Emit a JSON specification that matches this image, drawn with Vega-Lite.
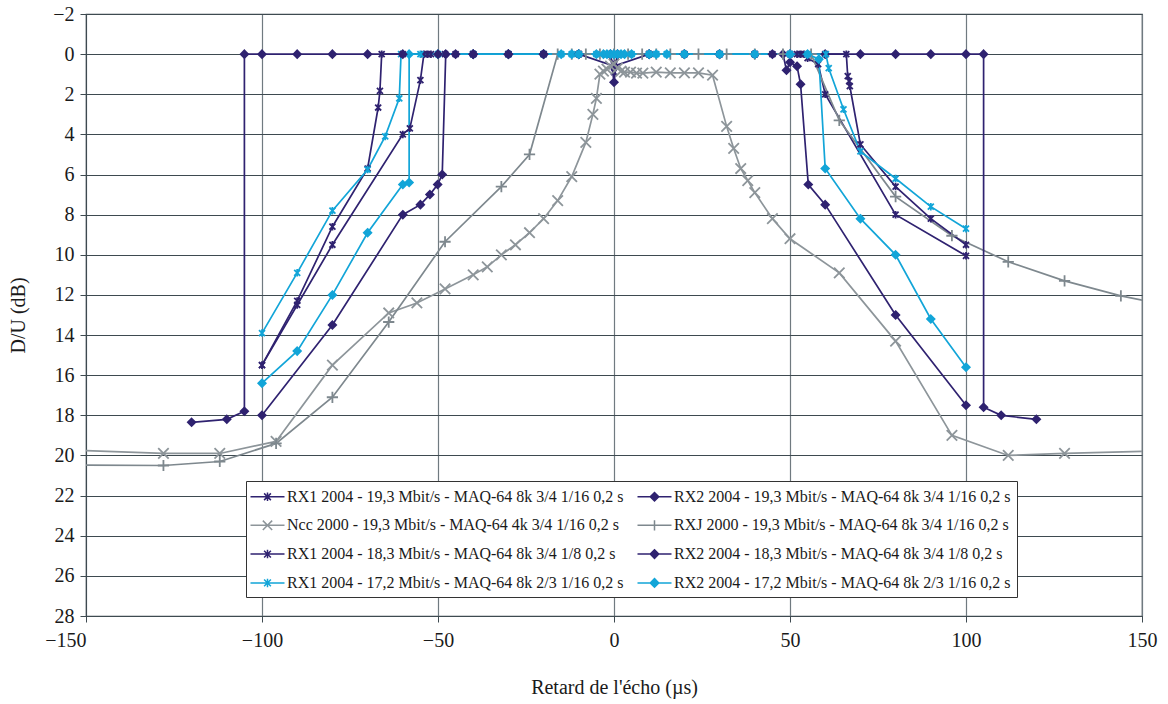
{
  "$schema": "https://vega.github.io/schema/vega-lite/v6.json",
  "width": 1056,
  "height": 602,
  "autosize": {"type": "none"},
  "padding": {"left": 86, "top": 14, "right": 26, "bottom": 88},
  "background": "white",
  "config": {
    "font": "Liberation Serif",
    "view": {"stroke": "#3e4a50", "strokeWidth": 1.2}
  },
  "data": {
    "values": [
      {"s": "RX1 2004 - 19,3 Mbit/s - MAQ-64 8k 3/4 1/16 0,2 s", "i": 1, "x": -100, "y": 15.5},
      {"s": "RX1 2004 - 19,3 Mbit/s - MAQ-64 8k 3/4 1/16 0,2 s", "i": 2, "x": -90, "y": 12.5},
      {"s": "RX1 2004 - 19,3 Mbit/s - MAQ-64 8k 3/4 1/16 0,2 s", "i": 3, "x": -80, "y": 9.5},
      {"s": "RX1 2004 - 19,3 Mbit/s - MAQ-64 8k 3/4 1/16 0,2 s", "i": 4, "x": -60, "y": 4.0},
      {"s": "RX1 2004 - 19,3 Mbit/s - MAQ-64 8k 3/4 1/16 0,2 s", "i": 5, "x": -58, "y": 3.7},
      {"s": "RX1 2004 - 19,3 Mbit/s - MAQ-64 8k 3/4 1/16 0,2 s", "i": 6, "x": -55, "y": 1.3},
      {"s": "RX1 2004 - 19,3 Mbit/s - MAQ-64 8k 3/4 1/16 0,2 s", "i": 7, "x": -54, "y": 0},
      {"s": "RX1 2004 - 19,3 Mbit/s - MAQ-64 8k 3/4 1/16 0,2 s", "i": 8, "x": -53, "y": 0},
      {"s": "RX1 2004 - 19,3 Mbit/s - MAQ-64 8k 3/4 1/16 0,2 s", "i": 9, "x": -52, "y": 0},
      {"s": "RX1 2004 - 19,3 Mbit/s - MAQ-64 8k 3/4 1/16 0,2 s", "i": 10, "x": -45, "y": 0},
      {"s": "RX1 2004 - 19,3 Mbit/s - MAQ-64 8k 3/4 1/16 0,2 s", "i": 11, "x": -40, "y": 0},
      {"s": "RX1 2004 - 19,3 Mbit/s - MAQ-64 8k 3/4 1/16 0,2 s", "i": 12, "x": -30, "y": 0},
      {"s": "RX1 2004 - 19,3 Mbit/s - MAQ-64 8k 3/4 1/16 0,2 s", "i": 13, "x": -20, "y": 0},
      {"s": "RX1 2004 - 19,3 Mbit/s - MAQ-64 8k 3/4 1/16 0,2 s", "i": 14, "x": -10, "y": 0},
      {"s": "RX1 2004 - 19,3 Mbit/s - MAQ-64 8k 3/4 1/16 0,2 s", "i": 15, "x": -2, "y": 0},
      {"s": "RX1 2004 - 19,3 Mbit/s - MAQ-64 8k 3/4 1/16 0,2 s", "i": 16, "x": 0, "y": 0.5},
      {"s": "RX1 2004 - 19,3 Mbit/s - MAQ-64 8k 3/4 1/16 0,2 s", "i": 17, "x": 2, "y": 0},
      {"s": "RX1 2004 - 19,3 Mbit/s - MAQ-64 8k 3/4 1/16 0,2 s", "i": 18, "x": 10, "y": 0},
      {"s": "RX1 2004 - 19,3 Mbit/s - MAQ-64 8k 3/4 1/16 0,2 s", "i": 19, "x": 20, "y": 0},
      {"s": "RX1 2004 - 19,3 Mbit/s - MAQ-64 8k 3/4 1/16 0,2 s", "i": 20, "x": 30, "y": 0},
      {"s": "RX1 2004 - 19,3 Mbit/s - MAQ-64 8k 3/4 1/16 0,2 s", "i": 21, "x": 40, "y": 0},
      {"s": "RX1 2004 - 19,3 Mbit/s - MAQ-64 8k 3/4 1/16 0,2 s", "i": 22, "x": 45, "y": 0},
      {"s": "RX1 2004 - 19,3 Mbit/s - MAQ-64 8k 3/4 1/16 0,2 s", "i": 23, "x": 52, "y": 0},
      {"s": "RX1 2004 - 19,3 Mbit/s - MAQ-64 8k 3/4 1/16 0,2 s", "i": 24, "x": 53, "y": 0},
      {"s": "RX1 2004 - 19,3 Mbit/s - MAQ-64 8k 3/4 1/16 0,2 s", "i": 25, "x": 54, "y": 0},
      {"s": "RX1 2004 - 19,3 Mbit/s - MAQ-64 8k 3/4 1/16 0,2 s", "i": 26, "x": 55, "y": 0.2},
      {"s": "RX1 2004 - 19,3 Mbit/s - MAQ-64 8k 3/4 1/16 0,2 s", "i": 27, "x": 58, "y": 0.5},
      {"s": "RX1 2004 - 19,3 Mbit/s - MAQ-64 8k 3/4 1/16 0,2 s", "i": 28, "x": 60, "y": 2.0},
      {"s": "RX1 2004 - 19,3 Mbit/s - MAQ-64 8k 3/4 1/16 0,2 s", "i": 29, "x": 80, "y": 8.0},
      {"s": "RX1 2004 - 19,3 Mbit/s - MAQ-64 8k 3/4 1/16 0,2 s", "i": 30, "x": 100, "y": 10.05},

      {"s": "RX2 2004 - 19,3 Mbit/s - MAQ-64 8k 3/4 1/16 0,2 s", "i": 1, "x": -100, "y": 18.0},
      {"s": "RX2 2004 - 19,3 Mbit/s - MAQ-64 8k 3/4 1/16 0,2 s", "i": 2, "x": -80, "y": 13.5},
      {"s": "RX2 2004 - 19,3 Mbit/s - MAQ-64 8k 3/4 1/16 0,2 s", "i": 3, "x": -60, "y": 8.0},
      {"s": "RX2 2004 - 19,3 Mbit/s - MAQ-64 8k 3/4 1/16 0,2 s", "i": 4, "x": -55, "y": 7.5},
      {"s": "RX2 2004 - 19,3 Mbit/s - MAQ-64 8k 3/4 1/16 0,2 s", "i": 5, "x": -52.3, "y": 7.0},
      {"s": "RX2 2004 - 19,3 Mbit/s - MAQ-64 8k 3/4 1/16 0,2 s", "i": 6, "x": -50.1, "y": 6.5},
      {"s": "RX2 2004 - 19,3 Mbit/s - MAQ-64 8k 3/4 1/16 0,2 s", "i": 7, "x": -48.8, "y": 6.0},
      {"s": "RX2 2004 - 19,3 Mbit/s - MAQ-64 8k 3/4 1/16 0,2 s", "i": 8, "x": -47.8, "y": 0},
      {"s": "RX2 2004 - 19,3 Mbit/s - MAQ-64 8k 3/4 1/16 0,2 s", "i": 9, "x": -45, "y": 0},
      {"s": "RX2 2004 - 19,3 Mbit/s - MAQ-64 8k 3/4 1/16 0,2 s", "i": 10, "x": -40, "y": 0},
      {"s": "RX2 2004 - 19,3 Mbit/s - MAQ-64 8k 3/4 1/16 0,2 s", "i": 11, "x": -30, "y": 0},
      {"s": "RX2 2004 - 19,3 Mbit/s - MAQ-64 8k 3/4 1/16 0,2 s", "i": 12, "x": -20, "y": 0},
      {"s": "RX2 2004 - 19,3 Mbit/s - MAQ-64 8k 3/4 1/16 0,2 s", "i": 13, "x": -10, "y": 0},
      {"s": "RX2 2004 - 19,3 Mbit/s - MAQ-64 8k 3/4 1/16 0,2 s", "i": 14, "x": -1, "y": 0},
      {"s": "RX2 2004 - 19,3 Mbit/s - MAQ-64 8k 3/4 1/16 0,2 s", "i": 15, "x": 0, "y": 1.4},
      {"s": "RX2 2004 - 19,3 Mbit/s - MAQ-64 8k 3/4 1/16 0,2 s", "i": 16, "x": 1, "y": 0},
      {"s": "RX2 2004 - 19,3 Mbit/s - MAQ-64 8k 3/4 1/16 0,2 s", "i": 17, "x": 10, "y": 0},
      {"s": "RX2 2004 - 19,3 Mbit/s - MAQ-64 8k 3/4 1/16 0,2 s", "i": 18, "x": 20, "y": 0},
      {"s": "RX2 2004 - 19,3 Mbit/s - MAQ-64 8k 3/4 1/16 0,2 s", "i": 19, "x": 30, "y": 0},
      {"s": "RX2 2004 - 19,3 Mbit/s - MAQ-64 8k 3/4 1/16 0,2 s", "i": 20, "x": 40, "y": 0},
      {"s": "RX2 2004 - 19,3 Mbit/s - MAQ-64 8k 3/4 1/16 0,2 s", "i": 21, "x": 45, "y": 0},
      {"s": "RX2 2004 - 19,3 Mbit/s - MAQ-64 8k 3/4 1/16 0,2 s", "i": 22, "x": 48, "y": 0},
      {"s": "RX2 2004 - 19,3 Mbit/s - MAQ-64 8k 3/4 1/16 0,2 s", "i": 23, "x": 49, "y": 0.8},
      {"s": "RX2 2004 - 19,3 Mbit/s - MAQ-64 8k 3/4 1/16 0,2 s", "i": 24, "x": 50, "y": 0.4},
      {"s": "RX2 2004 - 19,3 Mbit/s - MAQ-64 8k 3/4 1/16 0,2 s", "i": 25, "x": 52, "y": 0.6},
      {"s": "RX2 2004 - 19,3 Mbit/s - MAQ-64 8k 3/4 1/16 0,2 s", "i": 26, "x": 53, "y": 1.5},
      {"s": "RX2 2004 - 19,3 Mbit/s - MAQ-64 8k 3/4 1/16 0,2 s", "i": 27, "x": 55.2, "y": 6.5},
      {"s": "RX2 2004 - 19,3 Mbit/s - MAQ-64 8k 3/4 1/16 0,2 s", "i": 28, "x": 60, "y": 7.5},
      {"s": "RX2 2004 - 19,3 Mbit/s - MAQ-64 8k 3/4 1/16 0,2 s", "i": 29, "x": 80, "y": 13.0},
      {"s": "RX2 2004 - 19,3 Mbit/s - MAQ-64 8k 3/4 1/16 0,2 s", "i": 30, "x": 100, "y": 17.5},

      {"s": "Ncc 2000 - 19,3 Mbit/s - MAQ-64 4k 3/4 1/16 0,2 s", "i": 1, "x": -160, "y": 19.7},
      {"s": "Ncc 2000 - 19,3 Mbit/s - MAQ-64 4k 3/4 1/16 0,2 s", "i": 2, "x": -128, "y": 19.9},
      {"s": "Ncc 2000 - 19,3 Mbit/s - MAQ-64 4k 3/4 1/16 0,2 s", "i": 3, "x": -112, "y": 19.9},
      {"s": "Ncc 2000 - 19,3 Mbit/s - MAQ-64 4k 3/4 1/16 0,2 s", "i": 4, "x": -96, "y": 19.3},
      {"s": "Ncc 2000 - 19,3 Mbit/s - MAQ-64 4k 3/4 1/16 0,2 s", "i": 5, "x": -80, "y": 15.5},
      {"s": "Ncc 2000 - 19,3 Mbit/s - MAQ-64 4k 3/4 1/16 0,2 s", "i": 6, "x": -64, "y": 12.9},
      {"s": "Ncc 2000 - 19,3 Mbit/s - MAQ-64 4k 3/4 1/16 0,2 s", "i": 7, "x": -56, "y": 12.4},
      {"s": "Ncc 2000 - 19,3 Mbit/s - MAQ-64 4k 3/4 1/16 0,2 s", "i": 8, "x": -48, "y": 11.7},
      {"s": "Ncc 2000 - 19,3 Mbit/s - MAQ-64 4k 3/4 1/16 0,2 s", "i": 9, "x": -40, "y": 11.0},
      {"s": "Ncc 2000 - 19,3 Mbit/s - MAQ-64 4k 3/4 1/16 0,2 s", "i": 10, "x": -36, "y": 10.6},
      {"s": "Ncc 2000 - 19,3 Mbit/s - MAQ-64 4k 3/4 1/16 0,2 s", "i": 11, "x": -32, "y": 10.0},
      {"s": "Ncc 2000 - 19,3 Mbit/s - MAQ-64 4k 3/4 1/16 0,2 s", "i": 12, "x": -28, "y": 9.5},
      {"s": "Ncc 2000 - 19,3 Mbit/s - MAQ-64 4k 3/4 1/16 0,2 s", "i": 13, "x": -24, "y": 8.9},
      {"s": "Ncc 2000 - 19,3 Mbit/s - MAQ-64 4k 3/4 1/16 0,2 s", "i": 14, "x": -20, "y": 8.2},
      {"s": "Ncc 2000 - 19,3 Mbit/s - MAQ-64 4k 3/4 1/16 0,2 s", "i": 15, "x": -16, "y": 7.3},
      {"s": "Ncc 2000 - 19,3 Mbit/s - MAQ-64 4k 3/4 1/16 0,2 s", "i": 16, "x": -12, "y": 6.1},
      {"s": "Ncc 2000 - 19,3 Mbit/s - MAQ-64 4k 3/4 1/16 0,2 s", "i": 17, "x": -8, "y": 4.4},
      {"s": "Ncc 2000 - 19,3 Mbit/s - MAQ-64 4k 3/4 1/16 0,2 s", "i": 18, "x": -6, "y": 3.0},
      {"s": "Ncc 2000 - 19,3 Mbit/s - MAQ-64 4k 3/4 1/16 0,2 s", "i": 19, "x": -5, "y": 2.2},
      {"s": "Ncc 2000 - 19,3 Mbit/s - MAQ-64 4k 3/4 1/16 0,2 s", "i": 20, "x": -4, "y": 1.0},
      {"s": "Ncc 2000 - 19,3 Mbit/s - MAQ-64 4k 3/4 1/16 0,2 s", "i": 21, "x": -3, "y": 0.85},
      {"s": "Ncc 2000 - 19,3 Mbit/s - MAQ-64 4k 3/4 1/16 0,2 s", "i": 22, "x": -2, "y": 0.75},
      {"s": "Ncc 2000 - 19,3 Mbit/s - MAQ-64 4k 3/4 1/16 0,2 s", "i": 23, "x": -1, "y": 0.6},
      {"s": "Ncc 2000 - 19,3 Mbit/s - MAQ-64 4k 3/4 1/16 0,2 s", "i": 24, "x": 0, "y": 0.5},
      {"s": "Ncc 2000 - 19,3 Mbit/s - MAQ-64 4k 3/4 1/16 0,2 s", "i": 25, "x": 1, "y": 0.7},
      {"s": "Ncc 2000 - 19,3 Mbit/s - MAQ-64 4k 3/4 1/16 0,2 s", "i": 26, "x": 2, "y": 0.85},
      {"s": "Ncc 2000 - 19,3 Mbit/s - MAQ-64 4k 3/4 1/16 0,2 s", "i": 27, "x": 3, "y": 0.9},
      {"s": "Ncc 2000 - 19,3 Mbit/s - MAQ-64 4k 3/4 1/16 0,2 s", "i": 28, "x": 4.7, "y": 0.9},
      {"s": "Ncc 2000 - 19,3 Mbit/s - MAQ-64 4k 3/4 1/16 0,2 s", "i": 29, "x": 6.4, "y": 0.95},
      {"s": "Ncc 2000 - 19,3 Mbit/s - MAQ-64 4k 3/4 1/16 0,2 s", "i": 30, "x": 8.2, "y": 0.95},
      {"s": "Ncc 2000 - 19,3 Mbit/s - MAQ-64 4k 3/4 1/16 0,2 s", "i": 31, "x": 12, "y": 0.9},
      {"s": "Ncc 2000 - 19,3 Mbit/s - MAQ-64 4k 3/4 1/16 0,2 s", "i": 32, "x": 16, "y": 0.93},
      {"s": "Ncc 2000 - 19,3 Mbit/s - MAQ-64 4k 3/4 1/16 0,2 s", "i": 33, "x": 20, "y": 0.93},
      {"s": "Ncc 2000 - 19,3 Mbit/s - MAQ-64 4k 3/4 1/16 0,2 s", "i": 34, "x": 24, "y": 0.93},
      {"s": "Ncc 2000 - 19,3 Mbit/s - MAQ-64 4k 3/4 1/16 0,2 s", "i": 35, "x": 28, "y": 1.05},
      {"s": "Ncc 2000 - 19,3 Mbit/s - MAQ-64 4k 3/4 1/16 0,2 s", "i": 36, "x": 32, "y": 3.6},
      {"s": "Ncc 2000 - 19,3 Mbit/s - MAQ-64 4k 3/4 1/16 0,2 s", "i": 37, "x": 34, "y": 4.7},
      {"s": "Ncc 2000 - 19,3 Mbit/s - MAQ-64 4k 3/4 1/16 0,2 s", "i": 38, "x": 36, "y": 5.7},
      {"s": "Ncc 2000 - 19,3 Mbit/s - MAQ-64 4k 3/4 1/16 0,2 s", "i": 39, "x": 38, "y": 6.3},
      {"s": "Ncc 2000 - 19,3 Mbit/s - MAQ-64 4k 3/4 1/16 0,2 s", "i": 40, "x": 40, "y": 6.9},
      {"s": "Ncc 2000 - 19,3 Mbit/s - MAQ-64 4k 3/4 1/16 0,2 s", "i": 41, "x": 45, "y": 8.2},
      {"s": "Ncc 2000 - 19,3 Mbit/s - MAQ-64 4k 3/4 1/16 0,2 s", "i": 42, "x": 50, "y": 9.2},
      {"s": "Ncc 2000 - 19,3 Mbit/s - MAQ-64 4k 3/4 1/16 0,2 s", "i": 43, "x": 64, "y": 10.9},
      {"s": "Ncc 2000 - 19,3 Mbit/s - MAQ-64 4k 3/4 1/16 0,2 s", "i": 44, "x": 80, "y": 14.3},
      {"s": "Ncc 2000 - 19,3 Mbit/s - MAQ-64 4k 3/4 1/16 0,2 s", "i": 45, "x": 96, "y": 19.0},
      {"s": "Ncc 2000 - 19,3 Mbit/s - MAQ-64 4k 3/4 1/16 0,2 s", "i": 46, "x": 112, "y": 20.0},
      {"s": "Ncc 2000 - 19,3 Mbit/s - MAQ-64 4k 3/4 1/16 0,2 s", "i": 47, "x": 128, "y": 19.9},
      {"s": "Ncc 2000 - 19,3 Mbit/s - MAQ-64 4k 3/4 1/16 0,2 s", "i": 48, "x": 160, "y": 19.75},

      {"s": "RXJ 2000 - 19,3 Mbit/s - MAQ-64 8k 3/4 1/16 0,2 s", "i": 1, "x": -200, "y": 20.45},
      {"s": "RXJ 2000 - 19,3 Mbit/s - MAQ-64 8k 3/4 1/16 0,2 s", "i": 2, "x": -128, "y": 20.5},
      {"s": "RXJ 2000 - 19,3 Mbit/s - MAQ-64 8k 3/4 1/16 0,2 s", "i": 3, "x": -112, "y": 20.3},
      {"s": "RXJ 2000 - 19,3 Mbit/s - MAQ-64 8k 3/4 1/16 0,2 s", "i": 4, "x": -96, "y": 19.4},
      {"s": "RXJ 2000 - 19,3 Mbit/s - MAQ-64 8k 3/4 1/16 0,2 s", "i": 5, "x": -80, "y": 17.1},
      {"s": "RXJ 2000 - 19,3 Mbit/s - MAQ-64 8k 3/4 1/16 0,2 s", "i": 6, "x": -64, "y": 13.35},
      {"s": "RXJ 2000 - 19,3 Mbit/s - MAQ-64 8k 3/4 1/16 0,2 s", "i": 7, "x": -48, "y": 9.35},
      {"s": "RXJ 2000 - 19,3 Mbit/s - MAQ-64 8k 3/4 1/16 0,2 s", "i": 8, "x": -32, "y": 6.6},
      {"s": "RXJ 2000 - 19,3 Mbit/s - MAQ-64 8k 3/4 1/16 0,2 s", "i": 9, "x": -24, "y": 5.0},
      {"s": "RXJ 2000 - 19,3 Mbit/s - MAQ-64 8k 3/4 1/16 0,2 s", "i": 10, "x": -16, "y": 0},
      {"s": "RXJ 2000 - 19,3 Mbit/s - MAQ-64 8k 3/4 1/16 0,2 s", "i": 11, "x": -12, "y": 0},
      {"s": "RXJ 2000 - 19,3 Mbit/s - MAQ-64 8k 3/4 1/16 0,2 s", "i": 12, "x": -8, "y": 0},
      {"s": "RXJ 2000 - 19,3 Mbit/s - MAQ-64 8k 3/4 1/16 0,2 s", "i": 13, "x": -4, "y": 0},
      {"s": "RXJ 2000 - 19,3 Mbit/s - MAQ-64 8k 3/4 1/16 0,2 s", "i": 14, "x": 0, "y": 0},
      {"s": "RXJ 2000 - 19,3 Mbit/s - MAQ-64 8k 3/4 1/16 0,2 s", "i": 15, "x": 4, "y": 0},
      {"s": "RXJ 2000 - 19,3 Mbit/s - MAQ-64 8k 3/4 1/16 0,2 s", "i": 16, "x": 8, "y": 0},
      {"s": "RXJ 2000 - 19,3 Mbit/s - MAQ-64 8k 3/4 1/16 0,2 s", "i": 17, "x": 12, "y": 0},
      {"s": "RXJ 2000 - 19,3 Mbit/s - MAQ-64 8k 3/4 1/16 0,2 s", "i": 18, "x": 16, "y": 0},
      {"s": "RXJ 2000 - 19,3 Mbit/s - MAQ-64 8k 3/4 1/16 0,2 s", "i": 19, "x": 24, "y": 0},
      {"s": "RXJ 2000 - 19,3 Mbit/s - MAQ-64 8k 3/4 1/16 0,2 s", "i": 20, "x": 32, "y": 0},
      {"s": "RXJ 2000 - 19,3 Mbit/s - MAQ-64 8k 3/4 1/16 0,2 s", "i": 21, "x": 40, "y": 0},
      {"s": "RXJ 2000 - 19,3 Mbit/s - MAQ-64 8k 3/4 1/16 0,2 s", "i": 22, "x": 48, "y": 0},
      {"s": "RXJ 2000 - 19,3 Mbit/s - MAQ-64 8k 3/4 1/16 0,2 s", "i": 23, "x": 56, "y": 0},
      {"s": "RXJ 2000 - 19,3 Mbit/s - MAQ-64 8k 3/4 1/16 0,2 s", "i": 24, "x": 64, "y": 3.3},
      {"s": "RXJ 2000 - 19,3 Mbit/s - MAQ-64 8k 3/4 1/16 0,2 s", "i": 25, "x": 80, "y": 7.1},
      {"s": "RXJ 2000 - 19,3 Mbit/s - MAQ-64 8k 3/4 1/16 0,2 s", "i": 26, "x": 96, "y": 9.05},
      {"s": "RXJ 2000 - 19,3 Mbit/s - MAQ-64 8k 3/4 1/16 0,2 s", "i": 27, "x": 112, "y": 10.35},
      {"s": "RXJ 2000 - 19,3 Mbit/s - MAQ-64 8k 3/4 1/16 0,2 s", "i": 28, "x": 128, "y": 11.3},
      {"s": "RXJ 2000 - 19,3 Mbit/s - MAQ-64 8k 3/4 1/16 0,2 s", "i": 29, "x": 144, "y": 12.05},
      {"s": "RXJ 2000 - 19,3 Mbit/s - MAQ-64 8k 3/4 1/16 0,2 s", "i": 30, "x": 160, "y": 12.6},

      {"s": "RX1 2004 - 18,3 Mbit/s - MAQ-64 8k 3/4 1/8 0,2 s", "i": 1, "x": -100, "y": 15.5},
      {"s": "RX1 2004 - 18,3 Mbit/s - MAQ-64 8k 3/4 1/8 0,2 s", "i": 2, "x": -90, "y": 12.3},
      {"s": "RX1 2004 - 18,3 Mbit/s - MAQ-64 8k 3/4 1/8 0,2 s", "i": 3, "x": -80, "y": 8.6},
      {"s": "RX1 2004 - 18,3 Mbit/s - MAQ-64 8k 3/4 1/8 0,2 s", "i": 4, "x": -70, "y": 5.7},
      {"s": "RX1 2004 - 18,3 Mbit/s - MAQ-64 8k 3/4 1/8 0,2 s", "i": 5, "x": -67, "y": 2.66},
      {"s": "RX1 2004 - 18,3 Mbit/s - MAQ-64 8k 3/4 1/8 0,2 s", "i": 6, "x": -66.5, "y": 1.83},
      {"s": "RX1 2004 - 18,3 Mbit/s - MAQ-64 8k 3/4 1/8 0,2 s", "i": 7, "x": -66, "y": 0},
      {"s": "RX1 2004 - 18,3 Mbit/s - MAQ-64 8k 3/4 1/8 0,2 s", "i": 8, "x": -60, "y": 0},
      {"s": "RX1 2004 - 18,3 Mbit/s - MAQ-64 8k 3/4 1/8 0,2 s", "i": 9, "x": -48, "y": 0},
      {"s": "RX1 2004 - 18,3 Mbit/s - MAQ-64 8k 3/4 1/8 0,2 s", "i": 10, "x": -40, "y": 0},
      {"s": "RX1 2004 - 18,3 Mbit/s - MAQ-64 8k 3/4 1/8 0,2 s", "i": 11, "x": -30, "y": 0},
      {"s": "RX1 2004 - 18,3 Mbit/s - MAQ-64 8k 3/4 1/8 0,2 s", "i": 12, "x": -20, "y": 0},
      {"s": "RX1 2004 - 18,3 Mbit/s - MAQ-64 8k 3/4 1/8 0,2 s", "i": 13, "x": -10, "y": 0},
      {"s": "RX1 2004 - 18,3 Mbit/s - MAQ-64 8k 3/4 1/8 0,2 s", "i": 14, "x": -1, "y": 0},
      {"s": "RX1 2004 - 18,3 Mbit/s - MAQ-64 8k 3/4 1/8 0,2 s", "i": 15, "x": 0, "y": 0.9},
      {"s": "RX1 2004 - 18,3 Mbit/s - MAQ-64 8k 3/4 1/8 0,2 s", "i": 16, "x": 1, "y": 0},
      {"s": "RX1 2004 - 18,3 Mbit/s - MAQ-64 8k 3/4 1/8 0,2 s", "i": 17, "x": 10, "y": 0},
      {"s": "RX1 2004 - 18,3 Mbit/s - MAQ-64 8k 3/4 1/8 0,2 s", "i": 18, "x": 20, "y": 0},
      {"s": "RX1 2004 - 18,3 Mbit/s - MAQ-64 8k 3/4 1/8 0,2 s", "i": 19, "x": 30, "y": 0},
      {"s": "RX1 2004 - 18,3 Mbit/s - MAQ-64 8k 3/4 1/8 0,2 s", "i": 20, "x": 40, "y": 0},
      {"s": "RX1 2004 - 18,3 Mbit/s - MAQ-64 8k 3/4 1/8 0,2 s", "i": 21, "x": 50, "y": 0},
      {"s": "RX1 2004 - 18,3 Mbit/s - MAQ-64 8k 3/4 1/8 0,2 s", "i": 22, "x": 60, "y": 0},
      {"s": "RX1 2004 - 18,3 Mbit/s - MAQ-64 8k 3/4 1/8 0,2 s", "i": 23, "x": 66, "y": 0},
      {"s": "RX1 2004 - 18,3 Mbit/s - MAQ-64 8k 3/4 1/8 0,2 s", "i": 24, "x": 66.4, "y": 1.1},
      {"s": "RX1 2004 - 18,3 Mbit/s - MAQ-64 8k 3/4 1/8 0,2 s", "i": 25, "x": 66.8, "y": 1.35},
      {"s": "RX1 2004 - 18,3 Mbit/s - MAQ-64 8k 3/4 1/8 0,2 s", "i": 26, "x": 67, "y": 1.6},
      {"s": "RX1 2004 - 18,3 Mbit/s - MAQ-64 8k 3/4 1/8 0,2 s", "i": 27, "x": 70, "y": 4.5},
      {"s": "RX1 2004 - 18,3 Mbit/s - MAQ-64 8k 3/4 1/8 0,2 s", "i": 28, "x": 80, "y": 6.6},
      {"s": "RX1 2004 - 18,3 Mbit/s - MAQ-64 8k 3/4 1/8 0,2 s", "i": 29, "x": 90, "y": 8.2},
      {"s": "RX1 2004 - 18,3 Mbit/s - MAQ-64 8k 3/4 1/8 0,2 s", "i": 30, "x": 100, "y": 9.5},

      {"s": "RX2 2004 - 18,3 Mbit/s - MAQ-64 8k 3/4 1/8 0,2 s", "i": 1, "x": -120, "y": 18.35},
      {"s": "RX2 2004 - 18,3 Mbit/s - MAQ-64 8k 3/4 1/8 0,2 s", "i": 2, "x": -110, "y": 18.2},
      {"s": "RX2 2004 - 18,3 Mbit/s - MAQ-64 8k 3/4 1/8 0,2 s", "i": 3, "x": -105, "y": 17.8},
      {"s": "RX2 2004 - 18,3 Mbit/s - MAQ-64 8k 3/4 1/8 0,2 s", "i": 4, "x": -105, "y": 0},
      {"s": "RX2 2004 - 18,3 Mbit/s - MAQ-64 8k 3/4 1/8 0,2 s", "i": 5, "x": -100, "y": 0},
      {"s": "RX2 2004 - 18,3 Mbit/s - MAQ-64 8k 3/4 1/8 0,2 s", "i": 6, "x": -90, "y": 0},
      {"s": "RX2 2004 - 18,3 Mbit/s - MAQ-64 8k 3/4 1/8 0,2 s", "i": 7, "x": -80, "y": 0},
      {"s": "RX2 2004 - 18,3 Mbit/s - MAQ-64 8k 3/4 1/8 0,2 s", "i": 8, "x": -70, "y": 0},
      {"s": "RX2 2004 - 18,3 Mbit/s - MAQ-64 8k 3/4 1/8 0,2 s", "i": 9, "x": -60, "y": 0},
      {"s": "RX2 2004 - 18,3 Mbit/s - MAQ-64 8k 3/4 1/8 0,2 s", "i": 10, "x": -50, "y": 0},
      {"s": "RX2 2004 - 18,3 Mbit/s - MAQ-64 8k 3/4 1/8 0,2 s", "i": 11, "x": -40, "y": 0},
      {"s": "RX2 2004 - 18,3 Mbit/s - MAQ-64 8k 3/4 1/8 0,2 s", "i": 12, "x": -30, "y": 0},
      {"s": "RX2 2004 - 18,3 Mbit/s - MAQ-64 8k 3/4 1/8 0,2 s", "i": 13, "x": -20, "y": 0},
      {"s": "RX2 2004 - 18,3 Mbit/s - MAQ-64 8k 3/4 1/8 0,2 s", "i": 14, "x": -10, "y": 0},
      {"s": "RX2 2004 - 18,3 Mbit/s - MAQ-64 8k 3/4 1/8 0,2 s", "i": 15, "x": 0, "y": 0.6},
      {"s": "RX2 2004 - 18,3 Mbit/s - MAQ-64 8k 3/4 1/8 0,2 s", "i": 16, "x": 10, "y": 0},
      {"s": "RX2 2004 - 18,3 Mbit/s - MAQ-64 8k 3/4 1/8 0,2 s", "i": 17, "x": 20, "y": 0},
      {"s": "RX2 2004 - 18,3 Mbit/s - MAQ-64 8k 3/4 1/8 0,2 s", "i": 18, "x": 30, "y": 0},
      {"s": "RX2 2004 - 18,3 Mbit/s - MAQ-64 8k 3/4 1/8 0,2 s", "i": 19, "x": 40, "y": 0},
      {"s": "RX2 2004 - 18,3 Mbit/s - MAQ-64 8k 3/4 1/8 0,2 s", "i": 20, "x": 50, "y": 0},
      {"s": "RX2 2004 - 18,3 Mbit/s - MAQ-64 8k 3/4 1/8 0,2 s", "i": 21, "x": 60, "y": 0},
      {"s": "RX2 2004 - 18,3 Mbit/s - MAQ-64 8k 3/4 1/8 0,2 s", "i": 22, "x": 70, "y": 0},
      {"s": "RX2 2004 - 18,3 Mbit/s - MAQ-64 8k 3/4 1/8 0,2 s", "i": 23, "x": 80, "y": 0},
      {"s": "RX2 2004 - 18,3 Mbit/s - MAQ-64 8k 3/4 1/8 0,2 s", "i": 24, "x": 90, "y": 0},
      {"s": "RX2 2004 - 18,3 Mbit/s - MAQ-64 8k 3/4 1/8 0,2 s", "i": 25, "x": 100, "y": 0},
      {"s": "RX2 2004 - 18,3 Mbit/s - MAQ-64 8k 3/4 1/8 0,2 s", "i": 26, "x": 105, "y": 0},
      {"s": "RX2 2004 - 18,3 Mbit/s - MAQ-64 8k 3/4 1/8 0,2 s", "i": 27, "x": 105, "y": 17.6},
      {"s": "RX2 2004 - 18,3 Mbit/s - MAQ-64 8k 3/4 1/8 0,2 s", "i": 28, "x": 110, "y": 18.0},
      {"s": "RX2 2004 - 18,3 Mbit/s - MAQ-64 8k 3/4 1/8 0,2 s", "i": 29, "x": 120, "y": 18.2},

      {"s": "RX1 2004 - 17,2 Mbit/s - MAQ-64 8k 2/3 1/16 0,2 s", "i": 1, "x": -100, "y": 13.9},
      {"s": "RX1 2004 - 17,2 Mbit/s - MAQ-64 8k 2/3 1/16 0,2 s", "i": 2, "x": -90, "y": 10.9},
      {"s": "RX1 2004 - 17,2 Mbit/s - MAQ-64 8k 2/3 1/16 0,2 s", "i": 3, "x": -80, "y": 7.8},
      {"s": "RX1 2004 - 17,2 Mbit/s - MAQ-64 8k 2/3 1/16 0,2 s", "i": 4, "x": -70, "y": 5.75},
      {"s": "RX1 2004 - 17,2 Mbit/s - MAQ-64 8k 2/3 1/16 0,2 s", "i": 5, "x": -65, "y": 4.1},
      {"s": "RX1 2004 - 17,2 Mbit/s - MAQ-64 8k 2/3 1/16 0,2 s", "i": 6, "x": -61, "y": 2.2},
      {"s": "RX1 2004 - 17,2 Mbit/s - MAQ-64 8k 2/3 1/16 0,2 s", "i": 7, "x": -60.5, "y": 0},
      {"s": "RX1 2004 - 17,2 Mbit/s - MAQ-64 8k 2/3 1/16 0,2 s", "i": 8, "x": -55, "y": 0},
      {"s": "RX1 2004 - 17,2 Mbit/s - MAQ-64 8k 2/3 1/16 0,2 s", "i": 9, "x": -50, "y": 0},
      {"s": "RX1 2004 - 17,2 Mbit/s - MAQ-64 8k 2/3 1/16 0,2 s", "i": 10, "x": -40, "y": 0},
      {"s": "RX1 2004 - 17,2 Mbit/s - MAQ-64 8k 2/3 1/16 0,2 s", "i": 11, "x": -30, "y": 0},
      {"s": "RX1 2004 - 17,2 Mbit/s - MAQ-64 8k 2/3 1/16 0,2 s", "i": 12, "x": -20, "y": 0},
      {"s": "RX1 2004 - 17,2 Mbit/s - MAQ-64 8k 2/3 1/16 0,2 s", "i": 13, "x": -15, "y": 0},
      {"s": "RX1 2004 - 17,2 Mbit/s - MAQ-64 8k 2/3 1/16 0,2 s", "i": 14, "x": -12, "y": 0},
      {"s": "RX1 2004 - 17,2 Mbit/s - MAQ-64 8k 2/3 1/16 0,2 s", "i": 15, "x": -10, "y": 0},
      {"s": "RX1 2004 - 17,2 Mbit/s - MAQ-64 8k 2/3 1/16 0,2 s", "i": 16, "x": -5, "y": 0},
      {"s": "RX1 2004 - 17,2 Mbit/s - MAQ-64 8k 2/3 1/16 0,2 s", "i": 17, "x": -2, "y": 0},
      {"s": "RX1 2004 - 17,2 Mbit/s - MAQ-64 8k 2/3 1/16 0,2 s", "i": 18, "x": 0, "y": 0},
      {"s": "RX1 2004 - 17,2 Mbit/s - MAQ-64 8k 2/3 1/16 0,2 s", "i": 19, "x": 2, "y": 0},
      {"s": "RX1 2004 - 17,2 Mbit/s - MAQ-64 8k 2/3 1/16 0,2 s", "i": 20, "x": 5, "y": 0},
      {"s": "RX1 2004 - 17,2 Mbit/s - MAQ-64 8k 2/3 1/16 0,2 s", "i": 21, "x": 10, "y": 0},
      {"s": "RX1 2004 - 17,2 Mbit/s - MAQ-64 8k 2/3 1/16 0,2 s", "i": 22, "x": 12, "y": 0},
      {"s": "RX1 2004 - 17,2 Mbit/s - MAQ-64 8k 2/3 1/16 0,2 s", "i": 23, "x": 15, "y": 0},
      {"s": "RX1 2004 - 17,2 Mbit/s - MAQ-64 8k 2/3 1/16 0,2 s", "i": 24, "x": 20, "y": 0},
      {"s": "RX1 2004 - 17,2 Mbit/s - MAQ-64 8k 2/3 1/16 0,2 s", "i": 25, "x": 30, "y": 0},
      {"s": "RX1 2004 - 17,2 Mbit/s - MAQ-64 8k 2/3 1/16 0,2 s", "i": 26, "x": 40, "y": 0},
      {"s": "RX1 2004 - 17,2 Mbit/s - MAQ-64 8k 2/3 1/16 0,2 s", "i": 27, "x": 50, "y": 0},
      {"s": "RX1 2004 - 17,2 Mbit/s - MAQ-64 8k 2/3 1/16 0,2 s", "i": 28, "x": 55, "y": 0},
      {"s": "RX1 2004 - 17,2 Mbit/s - MAQ-64 8k 2/3 1/16 0,2 s", "i": 29, "x": 60.2, "y": 0},
      {"s": "RX1 2004 - 17,2 Mbit/s - MAQ-64 8k 2/3 1/16 0,2 s", "i": 30, "x": 61, "y": 0.7},
      {"s": "RX1 2004 - 17,2 Mbit/s - MAQ-64 8k 2/3 1/16 0,2 s", "i": 31, "x": 65.2, "y": 2.75},
      {"s": "RX1 2004 - 17,2 Mbit/s - MAQ-64 8k 2/3 1/16 0,2 s", "i": 32, "x": 70, "y": 4.85},
      {"s": "RX1 2004 - 17,2 Mbit/s - MAQ-64 8k 2/3 1/16 0,2 s", "i": 33, "x": 80, "y": 6.2},
      {"s": "RX1 2004 - 17,2 Mbit/s - MAQ-64 8k 2/3 1/16 0,2 s", "i": 34, "x": 90, "y": 7.6},
      {"s": "RX1 2004 - 17,2 Mbit/s - MAQ-64 8k 2/3 1/16 0,2 s", "i": 35, "x": 100, "y": 8.7},

      {"s": "RX2 2004 - 17,2 Mbit/s - MAQ-64 8k 2/3 1/16 0,2 s", "i": 1, "x": -100, "y": 16.4},
      {"s": "RX2 2004 - 17,2 Mbit/s - MAQ-64 8k 2/3 1/16 0,2 s", "i": 2, "x": -90, "y": 14.8},
      {"s": "RX2 2004 - 17,2 Mbit/s - MAQ-64 8k 2/3 1/16 0,2 s", "i": 3, "x": -80, "y": 12.0},
      {"s": "RX2 2004 - 17,2 Mbit/s - MAQ-64 8k 2/3 1/16 0,2 s", "i": 4, "x": -70, "y": 8.9},
      {"s": "RX2 2004 - 17,2 Mbit/s - MAQ-64 8k 2/3 1/16 0,2 s", "i": 5, "x": -60, "y": 6.5},
      {"s": "RX2 2004 - 17,2 Mbit/s - MAQ-64 8k 2/3 1/16 0,2 s", "i": 6, "x": -58.2, "y": 6.4},
      {"s": "RX2 2004 - 17,2 Mbit/s - MAQ-64 8k 2/3 1/16 0,2 s", "i": 7, "x": -58.2, "y": 0},
      {"s": "RX2 2004 - 17,2 Mbit/s - MAQ-64 8k 2/3 1/16 0,2 s", "i": 8, "x": -50, "y": 0},
      {"s": "RX2 2004 - 17,2 Mbit/s - MAQ-64 8k 2/3 1/16 0,2 s", "i": 9, "x": -40, "y": 0},
      {"s": "RX2 2004 - 17,2 Mbit/s - MAQ-64 8k 2/3 1/16 0,2 s", "i": 10, "x": -30, "y": 0},
      {"s": "RX2 2004 - 17,2 Mbit/s - MAQ-64 8k 2/3 1/16 0,2 s", "i": 11, "x": -20, "y": 0},
      {"s": "RX2 2004 - 17,2 Mbit/s - MAQ-64 8k 2/3 1/16 0,2 s", "i": 12, "x": -15, "y": 0},
      {"s": "RX2 2004 - 17,2 Mbit/s - MAQ-64 8k 2/3 1/16 0,2 s", "i": 13, "x": -12, "y": 0},
      {"s": "RX2 2004 - 17,2 Mbit/s - MAQ-64 8k 2/3 1/16 0,2 s", "i": 14, "x": -10, "y": 0},
      {"s": "RX2 2004 - 17,2 Mbit/s - MAQ-64 8k 2/3 1/16 0,2 s", "i": 15, "x": -5, "y": 0},
      {"s": "RX2 2004 - 17,2 Mbit/s - MAQ-64 8k 2/3 1/16 0,2 s", "i": 16, "x": -3, "y": 0},
      {"s": "RX2 2004 - 17,2 Mbit/s - MAQ-64 8k 2/3 1/16 0,2 s", "i": 17, "x": -2, "y": 0},
      {"s": "RX2 2004 - 17,2 Mbit/s - MAQ-64 8k 2/3 1/16 0,2 s", "i": 18, "x": -1, "y": 0},
      {"s": "RX2 2004 - 17,2 Mbit/s - MAQ-64 8k 2/3 1/16 0,2 s", "i": 19, "x": 0, "y": 0},
      {"s": "RX2 2004 - 17,2 Mbit/s - MAQ-64 8k 2/3 1/16 0,2 s", "i": 20, "x": 1, "y": 0},
      {"s": "RX2 2004 - 17,2 Mbit/s - MAQ-64 8k 2/3 1/16 0,2 s", "i": 21, "x": 2, "y": 0},
      {"s": "RX2 2004 - 17,2 Mbit/s - MAQ-64 8k 2/3 1/16 0,2 s", "i": 22, "x": 3, "y": 0},
      {"s": "RX2 2004 - 17,2 Mbit/s - MAQ-64 8k 2/3 1/16 0,2 s", "i": 23, "x": 5, "y": 0},
      {"s": "RX2 2004 - 17,2 Mbit/s - MAQ-64 8k 2/3 1/16 0,2 s", "i": 24, "x": 10, "y": 0},
      {"s": "RX2 2004 - 17,2 Mbit/s - MAQ-64 8k 2/3 1/16 0,2 s", "i": 25, "x": 12, "y": 0},
      {"s": "RX2 2004 - 17,2 Mbit/s - MAQ-64 8k 2/3 1/16 0,2 s", "i": 26, "x": 15, "y": 0},
      {"s": "RX2 2004 - 17,2 Mbit/s - MAQ-64 8k 2/3 1/16 0,2 s", "i": 27, "x": 20, "y": 0},
      {"s": "RX2 2004 - 17,2 Mbit/s - MAQ-64 8k 2/3 1/16 0,2 s", "i": 28, "x": 30, "y": 0},
      {"s": "RX2 2004 - 17,2 Mbit/s - MAQ-64 8k 2/3 1/16 0,2 s", "i": 29, "x": 40, "y": 0},
      {"s": "RX2 2004 - 17,2 Mbit/s - MAQ-64 8k 2/3 1/16 0,2 s", "i": 30, "x": 50, "y": 0},
      {"s": "RX2 2004 - 17,2 Mbit/s - MAQ-64 8k 2/3 1/16 0,2 s", "i": 31, "x": 55, "y": 0},
      {"s": "RX2 2004 - 17,2 Mbit/s - MAQ-64 8k 2/3 1/16 0,2 s", "i": 32, "x": 58.2, "y": 0.25},
      {"s": "RX2 2004 - 17,2 Mbit/s - MAQ-64 8k 2/3 1/16 0,2 s", "i": 33, "x": 60, "y": 5.7},
      {"s": "RX2 2004 - 17,2 Mbit/s - MAQ-64 8k 2/3 1/16 0,2 s", "i": 34, "x": 70, "y": 8.2},
      {"s": "RX2 2004 - 17,2 Mbit/s - MAQ-64 8k 2/3 1/16 0,2 s", "i": 35, "x": 80, "y": 10.0},
      {"s": "RX2 2004 - 17,2 Mbit/s - MAQ-64 8k 2/3 1/16 0,2 s", "i": 36, "x": 90, "y": 13.2},
      {"s": "RX2 2004 - 17,2 Mbit/s - MAQ-64 8k 2/3 1/16 0,2 s", "i": 37, "x": 100, "y": 15.6}
    ]
  },
  "encoding": {
    "x": {
      "field": "x", "type": "quantitative",
      "scale": {"domain": [-150, 150], "nice": false, "zero": false},
      "axis": {
        "values": [-150, -100, -50, 0, 50, 100, 150],
        "title": "Retard de l'écho (µs)",
        "titleFont": "Liberation Serif", "titleFontSize": 20, "titleFontWeight": "normal", "titleColor": "#1a1a1a", "titlePadding": 27,
        "labelFont": "Liberation Serif", "labelFontSize": 20, "labelColor": "#1a1a1a", "labelPadding": 8, "labelFlush": false,
        "labelAlign": {"condition": {"test": "datum.value == -150", "value": "right"}, "value": "center"},
        "tickColor": "#3e4a50", "tickSize": 6, "domainColor": "#3e4a50",
        "grid": true, "gridColor": "#707a80", "gridWidth": 1.2
      }
    },
    "y": {
      "field": "y", "type": "quantitative",
      "scale": {"domain": [-2, 28], "reverse": true, "nice": false, "zero": false},
      "axis": {
        "values": [-2, 0, 2, 4, 6, 8, 10, 12, 14, 16, 18, 20, 22, 24, 26, 28],
        "title": "D/U (dB)",
        "titleFont": "Liberation Serif", "titleFontSize": 20, "titleFontWeight": "normal", "titleColor": "#1a1a1a", "titlePadding": 24,
        "labelFont": "Liberation Serif", "labelFontSize": 20, "labelColor": "#1a1a1a", "labelPadding": 6, "labelFlush": false,
        "tickColor": "#3e4a50", "tickSize": 6, "domainColor": "#3e4a50",
        "grid": true, "gridColor": "#3e4a50", "gridWidth": 1.2
      }
    },
    "color": {
      "field": "s", "type": "nominal",
      "scale": {
        "domain": [
          "RX1 2004 - 19,3 Mbit/s - MAQ-64 8k 3/4 1/16 0,2 s",
          "Ncc 2000 - 19,3 Mbit/s - MAQ-64 4k 3/4 1/16 0,2 s",
          "RX1 2004 - 18,3 Mbit/s - MAQ-64 8k 3/4 1/8 0,2 s",
          "RX1 2004 - 17,2 Mbit/s - MAQ-64 8k 2/3 1/16 0,2 s",
          "RX2 2004 - 19,3 Mbit/s - MAQ-64 8k 3/4 1/16 0,2 s",
          "RXJ 2000 - 19,3 Mbit/s - MAQ-64 8k 3/4 1/16 0,2 s",
          "RX2 2004 - 18,3 Mbit/s - MAQ-64 8k 3/4 1/8 0,2 s",
          "RX2 2004 - 17,2 Mbit/s - MAQ-64 8k 2/3 1/16 0,2 s"
        ],
        "range": ["#2f2270", "#8d959a", "#2f2270", "#12a5d8", "#2f2270", "#7e888e", "#2f2270", "#12a5d8"]
      },
      "legend": {
        "orient": "none", "legendX": 160, "legendY": 467, "columns": 2, "title": null,
        "labelFont": "Liberation Serif", "labelFontSize": 16, "labelColor": "#1a1a1a", "labelLimit": 0,
        "symbolSize": 289, "symbolOffset": 6, "labelOffset": 10, "symbolStrokeWidth": 1.5,
        "rowPadding": 10.8, "columnPadding": 10, "padding": 6,
        "strokeColor": "#333333", "fillColor": "white",
        "encode": {
          "symbols": {
            "update": {
              "shape": {"signal": "indexof(datum.value,'RX2')==0 ? 'M-2,0H2M0,-0.5L0.5,0L0,0.5L-0.5,0Z' : indexof(datum.value,'Ncc')==0 ? 'M-2,0H2M-0.55,-0.55L0.55,0.55M-0.55,0.55L0.55,-0.55' : indexof(datum.value,'RXJ')==0 ? 'M-2,0H2M0,-0.6V0.6' : 'M-2,0H2M-0.4,-0.4L0.4,0.4M-0.4,0.4L0.4,-0.4M0,-0.5V0.5'"},
              "fill": {"scale": "color", "field": "value"},
              "stroke": {"scale": "color", "field": "value"},
              "strokeWidth": {"value": 1.5},
              "opacity": {"value": 1}
            }
          }
        }
      }
    },
    "order": {"field": "i", "type": "quantitative"}
  },
  "layer": [
    {"mark": {"type": "line", "strokeWidth": 1.7, "clip": true}},
    {
      "mark": {"type": "point", "filled": true, "size": 56, "strokeWidth": 1.8, "opacity": 1, "clip": true},
      "encoding": {
        "shape": {
          "field": "s", "type": "nominal", "legend": null, "sort": "ascending",
          "scale": {
            "range": [
              "M-1.4,-1.4L1.4,1.4M-1.4,1.4L1.4,-1.4",
              "M-0.8,-0.8L0.8,0.8M-0.8,0.8L0.8,-0.8M0,-1V1",
              "M-0.8,-0.8L0.8,0.8M-0.8,0.8L0.8,-0.8M0,-1V1",
              "M-0.8,-0.8L0.8,0.8M-0.8,0.8L0.8,-0.8M0,-1V1",
              "M0,-1L1,0L0,1L-1,0Z",
              "M0,-1L1,0L0,1L-1,0Z",
              "M0,-1L1,0L0,1L-1,0Z",
              "M-1.5,0H1.5M0,-1.5V1.5"
            ]
          }
        },
        "stroke": {
          "field": "s", "type": "nominal", "legend": null, "sort": "ascending",
          "scale": {
            "range": ["#8d959a", "#12a5d8", "#2f2270", "#2f2270", "#12a5d8", "#2f2270", "#2f2270", "#7e888e"]
          }
        }
      }
    }
  ]
}
